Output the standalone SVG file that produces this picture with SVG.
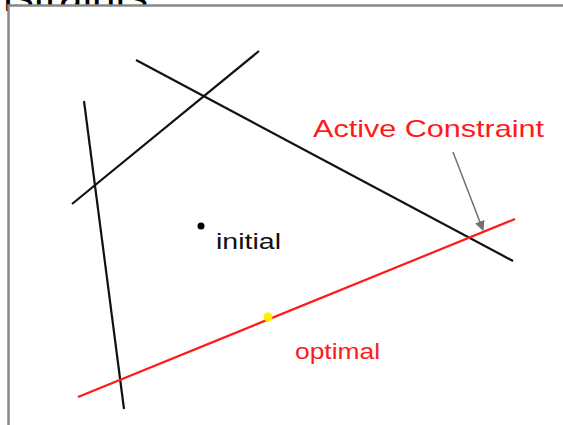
<svg xmlns="http://www.w3.org/2000/svg" width="563" height="425" viewBox="0 0 563 425">
<style>
.blk{stroke:#111;stroke-width:2.2;fill:none}
.red{stroke:#ff1a1a;stroke-width:2.2;fill:none}
.lbl{font-family:"Liberation Sans",Arial,sans-serif}
</style>
<defs>
<marker id="ah" markerWidth="10" markerHeight="10" refX="9" refY="5" orient="auto" markerUnits="userSpaceOnUse">
<path d="M0,0 L10,5 L0,10 Z" fill="#707070"/>
</marker>
</defs>
<rect width="563" height="425" fill="#fff"/>
<text class="lbl" x="148" y="11" font-size="42" text-anchor="end" fill="#000">Constraints</text>
<rect x="8.5" y="5.5" width="600" height="500" fill="#fff" stroke="#888" stroke-width="2.5"/>
<g id="connectors">
<line class="blk" x1="84" y1="101" x2="124" y2="409"/>
<line class="blk" x1="72" y1="204" x2="259" y2="51"/>
<line class="blk" x1="136" y1="60" x2="513" y2="261"/>
<line class="red" x1="78" y1="397" x2="515" y2="219"/>
<line x1="453" y1="152" x2="483" y2="230" stroke="#707070" stroke-width="1.5" marker-end="url(#ah)"/>
</g>
<g id="initial">
<circle cx="201" cy="226" r="3.5" fill="#000"/>
<text class="lbl" x="216" y="249" font-size="22" textLength="65" lengthAdjust="spacingAndGlyphs" fill="#111">initial</text>
</g>
<g id="optimal">
<circle cx="268" cy="317" r="4.5" fill="#ffee00"/>
<text class="lbl" x="295" y="359" font-size="22" textLength="85" lengthAdjust="spacingAndGlyphs" fill="#ff1a1a">optimal</text>
</g>
<g id="active">
<text class="lbl" x="313" y="137" font-size="24" textLength="231" lengthAdjust="spacingAndGlyphs" fill="#ff1a1a">Active Constraint</text>
</g>
</svg>
